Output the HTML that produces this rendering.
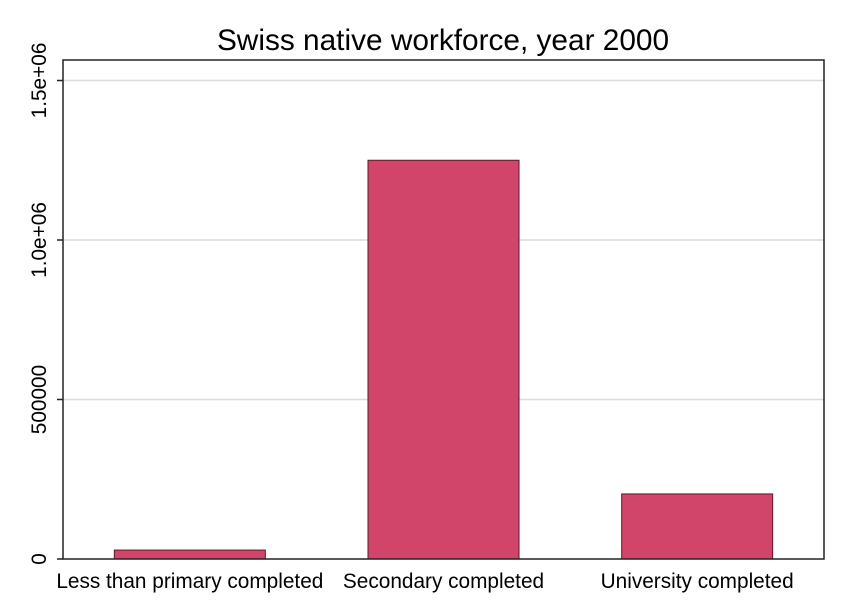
<!DOCTYPE html>
<html><head><meta charset="utf-8"><style>
body{margin:0;background:#fff;}
svg{display:block;font-family:"Liberation Sans",Arial,sans-serif;}
</style></head><body>
<svg id="chart" width="847" height="616">
<rect x="0" y="0" width="847" height="616" fill="#fff"/>
<text x="443" y="50" font-size="29.8" text-anchor="middle">Swiss native workforce, year 2000</text>
<g id="grid"></g>
<g id="bars"></g>
<rect x="63" y="60" width="761" height="499" fill="none" stroke="#222" stroke-width="1.5"/>
<g id="axes"></g>
</svg>
<script>
const categories = ["Less than primary completed","Secondary completed","University completed"];
const values = [28000, 1250000, 204000];
const yTicks = [0, 500000, 1000000, 1500000];
const yTickLabels = ["0","500000","1.0e+06","1.5e+06"];

const NS="http://www.w3.org/2000/svg";
const L=63,R=824,B=559;
const pxPerUnit=159.5/500000;
function y(v){return B - v*pxPerUnit;}
const slot=(R-L)/categories.length, bw=151;
function xc(i){return L + slot*(i+0.5);}
function mk(t,a,p){const e=document.createElementNS(NS,t);for(const k in a)e.setAttribute(k,a[k]);p.appendChild(e);return e;}
const grid=document.getElementById('grid'),bars=document.getElementById('bars'),axes=document.getElementById('axes');
yTicks.forEach((v,i)=>{
  if(v>0){const g=mk('line',{x1:L,x2:R,y1:y(v),y2:y(v),stroke:'#dcdcdc','stroke-width':1.5},grid);
  
  }
  const t=mk('line',{x1:L-6,x2:L,y1:y(v),y2:y(v),stroke:'#222','stroke-width':1.5},axes);
  
  
  const tx=mk('text',{x:0,y:0,'font-size':20.8,'text-anchor':'middle',transform:`translate(46,${y(v)}) rotate(-90)`},axes);
  tx.textContent=yTickLabels[i];
  
  
});
values.forEach((v,i)=>{
  const r=mk('rect',{x:xc(i)-bw/2,y:y(v),width:bw,height:B-y(v),fill:'#d1456a',stroke:'#5a1a2a','stroke-width':1},bars);
  
  
  const t=mk('text',{x:xc(i),y:588,'font-size':20.8,'text-anchor':'middle'},axes);
  t.textContent=categories[i];
  
  
});
</script>
</body></html>
